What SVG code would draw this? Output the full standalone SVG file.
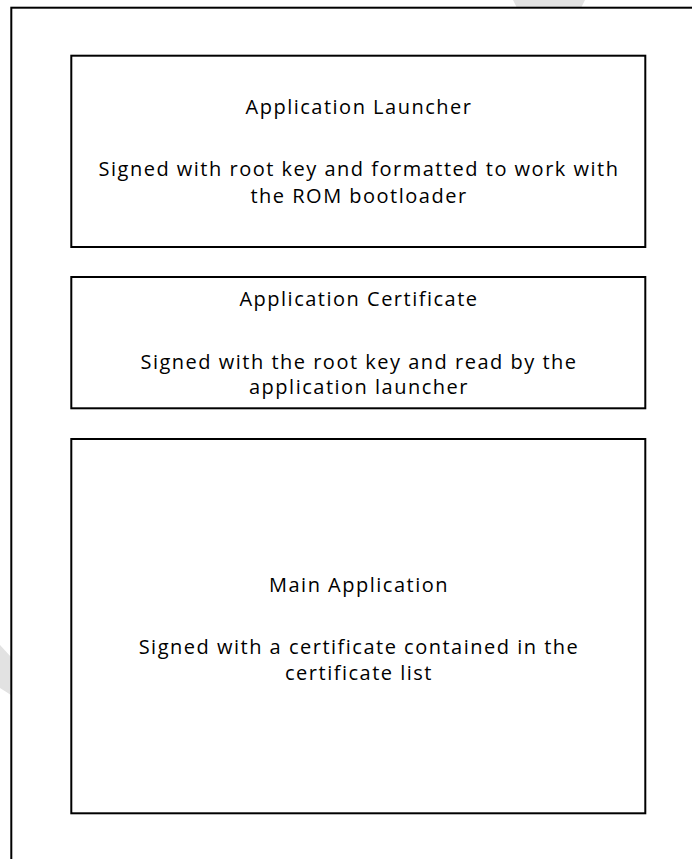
<svg xmlns="http://www.w3.org/2000/svg" width="692" height="859" viewBox="0 0 692 859">
  <style>
    .frame { fill: #ffffff; stroke: #000000; stroke-width: 2; }
    .box { fill: #ffffff; stroke: #000000; stroke-width: 2; }
    .mark { fill: #e2e2e2; stroke: none; }
    text { font-family: "Open Sans", "Liberation Sans", sans-serif; font-size: 20px; letter-spacing: 1.5px; font-variant-ligatures: none; fill: #000000; text-anchor: middle; }
  </style>

  <!-- page background -->
  <rect x="0" y="0" width="692" height="859" fill="#ffffff"/>

  <!-- faint background marks showing outside the frame -->
  <polygon class="mark" points="513,0 585,0 581,8 517,8"/>
  <polygon class="mark" points="0,645 11,657 11,695 0,688"/>

  <!-- outer frame, running past the right and bottom edges -->
  <rect id="frame" class="frame" x="11.3" y="7.7" width="720" height="900"/>

  <g id="application-launcher">
    <rect class="box" x="71.3" y="55.7" width="574" height="191.3"/>
    <text x="359" y="113.5">Application Launcher</text>
    <text x="359" y="175.5">Signed with root key and formatted to work with</text>
    <text x="359" y="203">the ROM bootloader</text>
  </g>

  <g id="application-certificate">
    <rect class="box" x="71.3" y="277" width="574" height="131.3"/>
    <text x="359" y="306">Application Certificate</text>
    <text x="359" y="368.5">Signed with the root key and read by the</text>
    <text x="359" y="394">application launcher</text>
  </g>

  <g id="main-application">
    <rect class="box" x="71.3" y="439" width="574" height="374.3"/>
    <text x="359" y="591.5">Main Application</text>
    <text x="359" y="654">Signed with a certificate contained in the</text>
    <text x="359" y="680">certificate list</text>
  </g>
</svg>
